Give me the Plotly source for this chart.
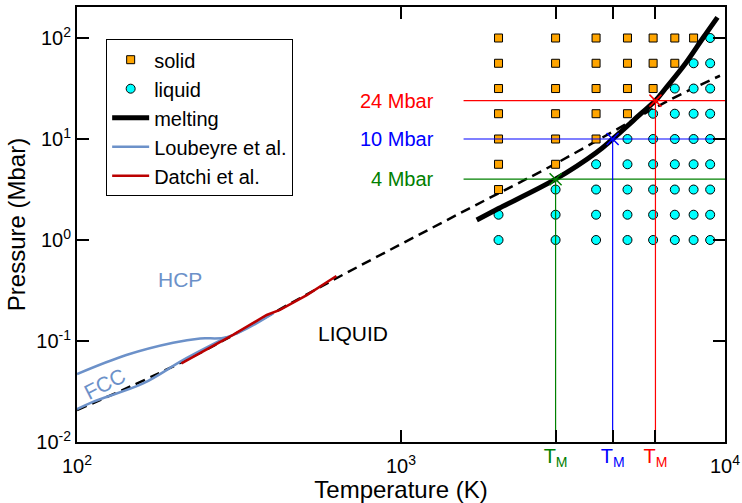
import numpy as np
import plotly.graph_objects as go

# simulation grid (temperature in K, pressure in Mbar)
grid_T = [2000, 3000, 4000, 5000, 6000, 7000, 8000, 9000]
grid_P = [1.0, 1.78, 3.16, 5.62, 10.0, 17.8, 31.6, 56.2, 100.0]
# phase at each grid point, one string per pressure row (S = solid, L = liquid)
phase_rows = [
    "LLLLLLLL",
    "LLLLLLLL",
    "SLLLLLLL",
    "SSLLLLLL",
    "SSSLLLLL",
    "SSSSLLLL",
    "SSSSSLLL",
    "SSSSSSLL",
    "SSSSSSSL",
]

# computed melting curve
melt_T = [1713, 2000, 3000, 4000, 4500, 5500, 6100, 6550, 7550, 8550, 9480]
melt_P = [1.58, 2.05, 4.0, 7.3, 10.0, 17.8, 24.0, 31.6, 56.0, 100.0, 160.0]

# extrapolated fit (dashed)
fit_T = [100, 212, 632, 1521, 3000, 4500, 6100, 7980, 9650]
fit_P = [0.0207, 0.0624, 0.418, 1.84, 5.7, 11.8, 20.5, 31.8, 42.3]

# Loubeyre et al.
loub_hcp_T = [100, 142, 198, 240, 290, 404]
loub_hcp_P = [0.047, 0.0726, 0.096, 0.106, 0.109, 0.188]
loub_fcc_T = [100, 112, 160, 213, 290]
loub_fcc_P = [0.0211, 0.025, 0.038, 0.065, 0.109]

# Datchi et al.
datchi_T = [210, 303, 385, 423, 512, 632]
datchi_P = [0.060, 0.115, 0.181, 0.203, 0.285, 0.44]

# isobars and their melting temperatures
iso_P = [4, 10, 24]
iso_TM = [3000, 4500, 6100]
iso_label = ["4 Mbar", "10 Mbar", "24 Mbar"]
iso_color = ["#008000", "#0000ff", "#ff0000"]
iso_Tstart = 1560
T_max = 10000
P_min = 0.01

solid_T, solid_P, liq_T, liq_P = [], [], [], []
for p, row in zip(grid_P, phase_rows):
    for t, ph in zip(grid_T, row):
        if ph == "S":
            solid_T.append(t)
            solid_P.append(p)
        else:
            liq_T.append(t)
            liq_P.append(p)

loub_color = "#6c91c9"
datchi_color = "#bb0000"

fig = go.Figure()

# isobar guide lines (drawn on the second x axis that carries the T_M ticks)
for p, tm, c in zip(iso_P, iso_TM, iso_color):
    fig.add_trace(go.Scatter(x=[iso_Tstart, T_max], y=[p, p], mode="lines", xaxis="x2",
                             line=dict(color=c, width=1.2), showlegend=False, hoverinfo="skip"))
    fig.add_trace(go.Scatter(x=[tm, tm], y=[P_min, p], mode="lines", xaxis="x2",
                             line=dict(color=c, width=1.2), showlegend=False, hoverinfo="skip"))

fig.add_trace(go.Scatter(x=fit_T, y=fit_P, mode="lines", line_shape="spline",
                         line=dict(color="black", width=2.5, dash="10px,6px"), showlegend=False))

fig.add_trace(go.Scatter(x=solid_T, y=solid_P, mode="markers", name="solid",
                         marker=dict(symbol="square", size=8, color="#ffa500",
                                     line=dict(color="black", width=1))))
fig.add_trace(go.Scatter(x=liq_T, y=liq_P, mode="markers", name="liquid",
                         marker=dict(symbol="circle", size=9, color="#00ffff",
                                     line=dict(color="black", width=1))))
fig.add_trace(go.Scatter(x=melt_T, y=melt_P, mode="lines", name="melting", line_shape="spline",
                         line=dict(color="black", width=5)))
fig.add_trace(go.Scatter(x=loub_hcp_T, y=loub_hcp_P, mode="lines", name="Loubeyre et al.",
                         line_shape="spline", line=dict(color=loub_color, width=2.5)))
fig.add_trace(go.Scatter(x=loub_fcc_T, y=loub_fcc_P, mode="lines", line_shape="spline",
                         line=dict(color=loub_color, width=2.5), showlegend=False))
fig.add_trace(go.Scatter(x=datchi_T, y=datchi_P, mode="lines", name="Datchi et al.",
                         line=dict(color=datchi_color, width=2.5)))

# crosses at melting points
for p, tm, c in zip(iso_P, iso_TM, iso_color):
    fig.add_trace(go.Scatter(x=[tm], y=[p], mode="markers", showlegend=False,
                             marker=dict(symbol="x-thin", size=12, line=dict(color=c, width=1.5))))

annotations = []
for p, lab, c in zip(iso_P, iso_label, iso_color):
    annotations.append(dict(x=np.log10(1282), y=np.log10(p), text=lab, showarrow=False,
                            xanchor="right", yanchor="middle", font=dict(size=20, color=c)))
annotations += [
    dict(x=np.log10(208), y=np.log10(0.402), text="HCP", showarrow=False,
         font=dict(size=21, color=loub_color)),
    dict(x=np.log10(122), y=np.log10(0.0381), text="FCC", showarrow=False, textangle=-27,
         font=dict(size=21, color=loub_color)),
    dict(x=np.log10(713), y=np.log10(0.119), text="LIQUID", showarrow=False,
         font=dict(size=21, color="black")),
]

axis_style = dict(type="log", ticks="inside", ticklen=12, tickwidth=1.5, tickcolor="black",
                  showline=True, linecolor="black", linewidth=2, mirror="ticks",
                  showgrid=False, zeroline=False, tickfont=dict(size=20), automargin=False)

fig.update_layout(
    width=742, height=503,
    margin=dict(l=77, r=17, t=7, b=61),
    plot_bgcolor="white", paper_bgcolor="white",
    font=dict(family="Arial, Liberation Sans", color="black"),
    annotations=annotations,
    xaxis=dict(axis_style, range=[2, 4], tickvals=[100, 1000, 10000],
               ticktext=["10<sup>2</sup>", "10<sup>3</sup>", "10<sup>4</sup>"],
               ticklabelstandoff=5,
               title=dict(text="Temperature (K)", font=dict(size=24), standoff=0)),
    xaxis2=dict(axis_style, range=[2, 4], overlaying="x", anchor="y", side="bottom",
                tickvals=iso_TM,
                ticktext=['<span style="color:%s">T<sub>M</sub></span>' % c for c in iso_color],
                ticklabelstandoff=-5),
    yaxis=dict(axis_style, range=[-2, 2.307], tickvals=[0.01, 0.1, 1, 10, 100],
               ticktext=["10<sup>-2</sup>", "10<sup>-1</sup>", "10<sup>0</sup>",
                         "10<sup>1</sup>", "10<sup>2</sup>"],
               title=dict(text="Pressure (Mbar)", font=dict(size=24), standoff=4)),
    legend=dict(x=0.045, y=0.926, xanchor="left", yanchor="top",
                bordercolor="black", borderwidth=1, bgcolor="white", itemwidth=37,
                font=dict(size=20), tracegroupgap=0),
)

# the page body has a default 8px margin; drop it so the figure sits at the window corner
fig.write_html("out.html", config={"displayModeBar": False},
               post_script="document.body.style.margin='0px';")
